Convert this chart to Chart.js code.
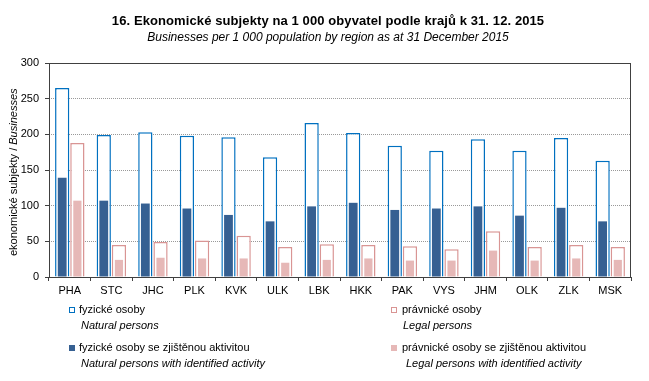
<!DOCTYPE html>
<html>
<head>
<meta charset="utf-8">
<script src="https://cdn.jsdelivr.net/npm/chart.js@4/dist/chart.umd.min.js"></script>
<style>
  html, body { margin: 0; padding: 0; background: #fff; }
  #wrap { position: relative; width: 649px; height: 381px; font-family: "Liberation Sans", Arial, sans-serif; color: #000; }
  #c { position: absolute; left: 0; top: 0; }
  .t { position: absolute; white-space: nowrap; }
  .title { font-weight: bold; font-size: 13px; left: 0; width: 656px; text-align: center; top: 13px; line-height: 16px; letter-spacing: 0.1px; }
  .sub { font-style: italic; font-size: 12px; left: 0; width: 656px; text-align: center; top: 30px; line-height: 15px; }
  .ytitle { font-size: 11px; left: 7px; top: 72px; height: 200px; width: 13px; line-height: 13px; writing-mode: vertical-rl; transform: rotate(180deg); text-align: center; font-weight: normal; }
  .lg { font-size: 11px; line-height: 13px; }
  .lgi { font-size: 11px; line-height: 13px; font-style: italic; }
  .sq { position: absolute; width: 6px; height: 6px; box-sizing: border-box; }
</style>
</head>
<body>
<div id="wrap">
  <canvas id="c" width="649" height="381"></canvas>
  <div class="t title">16. Ekonomické subjekty na 1 000 obyvatel podle krajů k 31. 12. 2015</div>
  <div class="t sub">Businesses per 1 000 population by region as at 31 December 2015</div>
  <div class="t ytitle">ekonomické subjekty / <i>Businesses</i></div>

  <div class="sq" style="left:69px; top:307px; border:1.3px solid #0070C0; background:#fff;"></div>
  <div class="t lg" style="left:79px; top:303px;">fyzické osoby</div>
  <div class="t lgi" style="left:81px; top:319px;">Natural persons</div>

  <div class="sq" style="left:69px; top:345px; background:#366092;"></div>
  <div class="t lg" style="left:79px; top:341px;">fyzické osoby se zjištěnou aktivitou</div>
  <div class="t lgi" style="left:81px; top:357px;">Natural persons with identified activity</div>

  <div class="sq" style="left:391px; top:307px; border:1.3px solid #D99594; background:#fff;"></div>
  <div class="t lg" style="left:402px; top:303px;">právnické osoby</div>
  <div class="t lgi" style="left:403px; top:319px;">Legal persons</div>

  <div class="sq" style="left:391px; top:345px; background:#E6B8B7;"></div>
  <div class="t lg" style="left:402px; top:341px;">právnické osoby se zjištěnou aktivitou</div>
  <div class="t lgi" style="left:406px; top:357px;">Legal persons with identified activity</div>
</div>
<script>
const regions = ["PHA","STC","JHC","PLK","KVK","ULK","LBK","HKK","PAK","VYS","JHM","OLK","ZLK","MSK"];
const naturalPersons = [265, 199, 203, 198, 196, 168, 216, 202, 184, 177, 193, 177, 195, 163];
const legalPersons = [188, 45, 49, 51, 58, 42, 46, 45, 43, 39, 64, 42, 45, 42];
const naturalActive = [139, 107, 103, 96, 87, 78, 99, 104, 94, 96, 99, 86, 97, 78];
const legalActive = [107, 24, 27, 26, 26, 20, 24, 26, 23, 23, 37, 23, 26, 24];
const yTicks = [0, 50, 100, 150, 200, 250, 300];

const framePlugin = {
  id: 'frame',
  afterDatasetsDraw(chart) {
    const a = chart.chartArea, ctx = chart.ctx;
    ctx.save();
    ctx.strokeStyle = '#404040';
    ctx.lineWidth = 1;
    ctx.strokeRect(Math.round(a.left) + 0.5, Math.round(a.top) + 0.5, Math.round(a.right - a.left) - 1, Math.round(a.bottom - a.top));
    ctx.restore();
  }
};

const font = { family: "'Liberation Sans', Arial, sans-serif", size: 11 };

new Chart(document.getElementById('c'), {
  type: 'bar',
  data: {
    labels: regions,
    datasets: [
      { label: 'fyzické osoby', data: naturalPersons, stack: 'natural', order: 2,
        backgroundColor: '#ffffff', borderColor: '#0070C0', borderWidth: 1.5, borderSkipped: 'bottom',
        categoryPercentage: 0.73, barPercentage: 0.94 },
      { label: 'právnické osoby', data: legalPersons, stack: 'legal', order: 2,
        backgroundColor: '#ffffff', borderColor: '#D99594', borderWidth: 1.5, borderSkipped: 'bottom',
        categoryPercentage: 0.73, barPercentage: 0.94 },
      { label: 'fyzické osoby se zjištěnou aktivitou', data: naturalActive, stack: 'natural', order: 1,
        backgroundColor: '#366092', borderWidth: 0,
        categoryPercentage: 0.73, barPercentage: 0.58 },
      { label: 'právnické osoby se zjištěnou aktivitou', data: legalActive, stack: 'legal', order: 1,
        backgroundColor: '#E6B8B7', borderWidth: 0,
        categoryPercentage: 0.73, barPercentage: 0.54 }
    ]
  },
  options: {
    responsive: false,
    animation: false,
    devicePixelRatio: 1,
    layout: { padding: { left: 0, right: 18, top: 63, bottom: 0 } },
    plugins: { legend: { display: false }, title: { display: false }, tooltip: { enabled: false } },
    scales: {
      x: {
        type: 'category',
        offset: true,
        grid: { display: true, offset: true, drawOnChartArea: false, drawTicks: true, tickLength: 4, tickColor: '#404040', color: '#404040' },
        border: { display: false },
        ticks: { color: '#000', font: font, padding: 3, maxRotation: 0, autoSkip: false },
        afterFit(s) { s.height = 104; }
      },
      y: {
        min: 0, max: 300,
        stacked: false,
        afterBuildTicks(s) { s.ticks = yTicks.map(v => ({ value: v })); },
        grid: { color: '#999999', lineWidth: 1, drawTicks: true, tickLength: 4, tickColor: '#404040', tickBorderDash: [] },
        border: { display: false, dash: [1, 1] },
        ticks: { color: '#000', font: font, padding: 6 },
        afterFit(s) { s.width = 49; }
      }
    }
  },
  plugins: [framePlugin]
});
</script>
</body>
</html>
